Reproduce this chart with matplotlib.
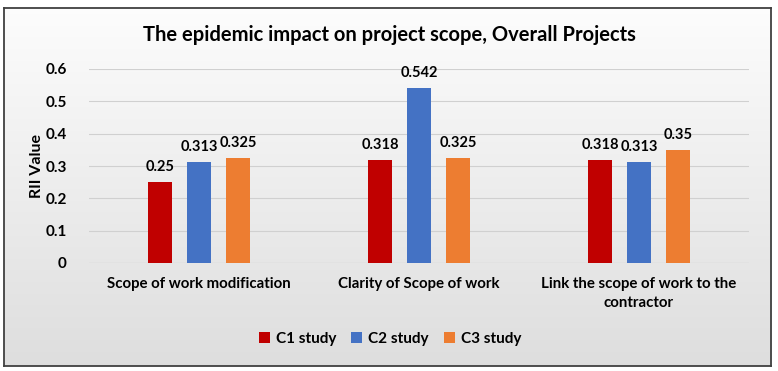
import numpy as np
import matplotlib.pyplot as plt

categories = ["Scope of work modification", "Clarity of Scope of work",
              "Link the scope of work to the\ncontractor"]
series_names = ["C1 study", "C2 study", "C3 study"]
c1_values = [0.25, 0.318, 0.318]
c2_values = [0.313, 0.542, 0.313]
c3_values = [0.325, 0.325, 0.35]
y_ticks = [0, 0.1, 0.2, 0.3, 0.4, 0.5, 0.6]
colors = ["#C00000", "#4472C4", "#ED7D31"]

plt.rcParams['font.family'] = ['Lato', 'DejaVu Sans']
plt.rcParams['font.weight'] = 'bold'

W, H = 778, 371
fig = plt.figure(figsize=(W / 100, H / 100), dpi=100)

# gradient background inside the chart frame
x0, y0, x1, y1 = 4, 8, 771, 366
bg = fig.add_axes([x0 / W, 1 - y1 / H, (x1 - x0) / W, (y1 - y0) / H], zorder=-5)
grad = np.linspace(0, 1, 256).reshape(-1, 1)
top = np.array([0.99, 0.99, 0.99])
bottom = np.array([0.87, 0.87, 0.87])
img = top + (bottom - top) * grad[..., None]
bg.imshow(img, aspect='auto', extent=[0, 1, 0, 1], origin='upper')
bg.set_xticks([])
bg.set_yticks([])
for s in bg.spines.values():
    s.set_color('#404040')
    s.set_linewidth(1.3)

# main axes (pixel layout from reference)
ax_l, ax_r, ax_t, ax_b = 89, 749, 69, 263
ax = fig.add_axes([ax_l / W, 1 - ax_b / H, (ax_r - ax_l) / W, (ax_b - ax_t) / H])
ax.patch.set_alpha(0)

x = np.arange(len(categories))
width = 0.11
step = 0.177
all_series = [c1_values, c2_values, c3_values]
for i, (vals, name, c) in enumerate(zip(all_series, series_names, colors)):
    pos = x + (i - 1) * step
    bars = ax.bar(pos, vals, width, color=c, label=name, zorder=3)
    for b, v in zip(bars, vals):
        ax.text(b.get_x() + b.get_width() / 2, v + 0.025, f"{v:g}",
                ha='center', va='bottom', fontsize=10.5, fontweight='bold')

ax.set_xlim(-0.5, 2.5)
ax.set_ylim(0, 0.6)
ax.set_yticks(y_ticks)
ax.set_yticklabels([f"{t:g}" for t in y_ticks], fontsize=11, fontweight='bold')
ax.set_xticks(x)
ax.set_xticklabels(categories, fontsize=10.8, fontweight='bold', linespacing=1.45)
ax.tick_params(axis='both', length=0, pad=10)
ax.tick_params(axis='y', pad=16)
ax.grid(axis='y', color='#d0d0d0', linewidth=0.8, zorder=0)
for s in ax.spines.values():
    s.set_visible(False)
ax.axhline(0, color='#d0d0d0', linewidth=0.8, zorder=1)
ax.set_ylabel("RII Value", fontsize=11.5, fontweight='bold', labelpad=1)

fig.text(0.5, 1 - 35 / H, "The epidemic impact on project scope, Overall Projects",
         ha='center', va='center', fontsize=14.5, fontweight='bold')

fig.legend(loc='center', bbox_to_anchor=(390 / W, 1 - 339 / H), ncol=3,
           frameon=False, fontsize=11, handlelength=0.7, handleheight=0.7,
           handletextpad=0.4, columnspacing=1.0)

fig.savefig("out.png", dpi=100, facecolor='white')
